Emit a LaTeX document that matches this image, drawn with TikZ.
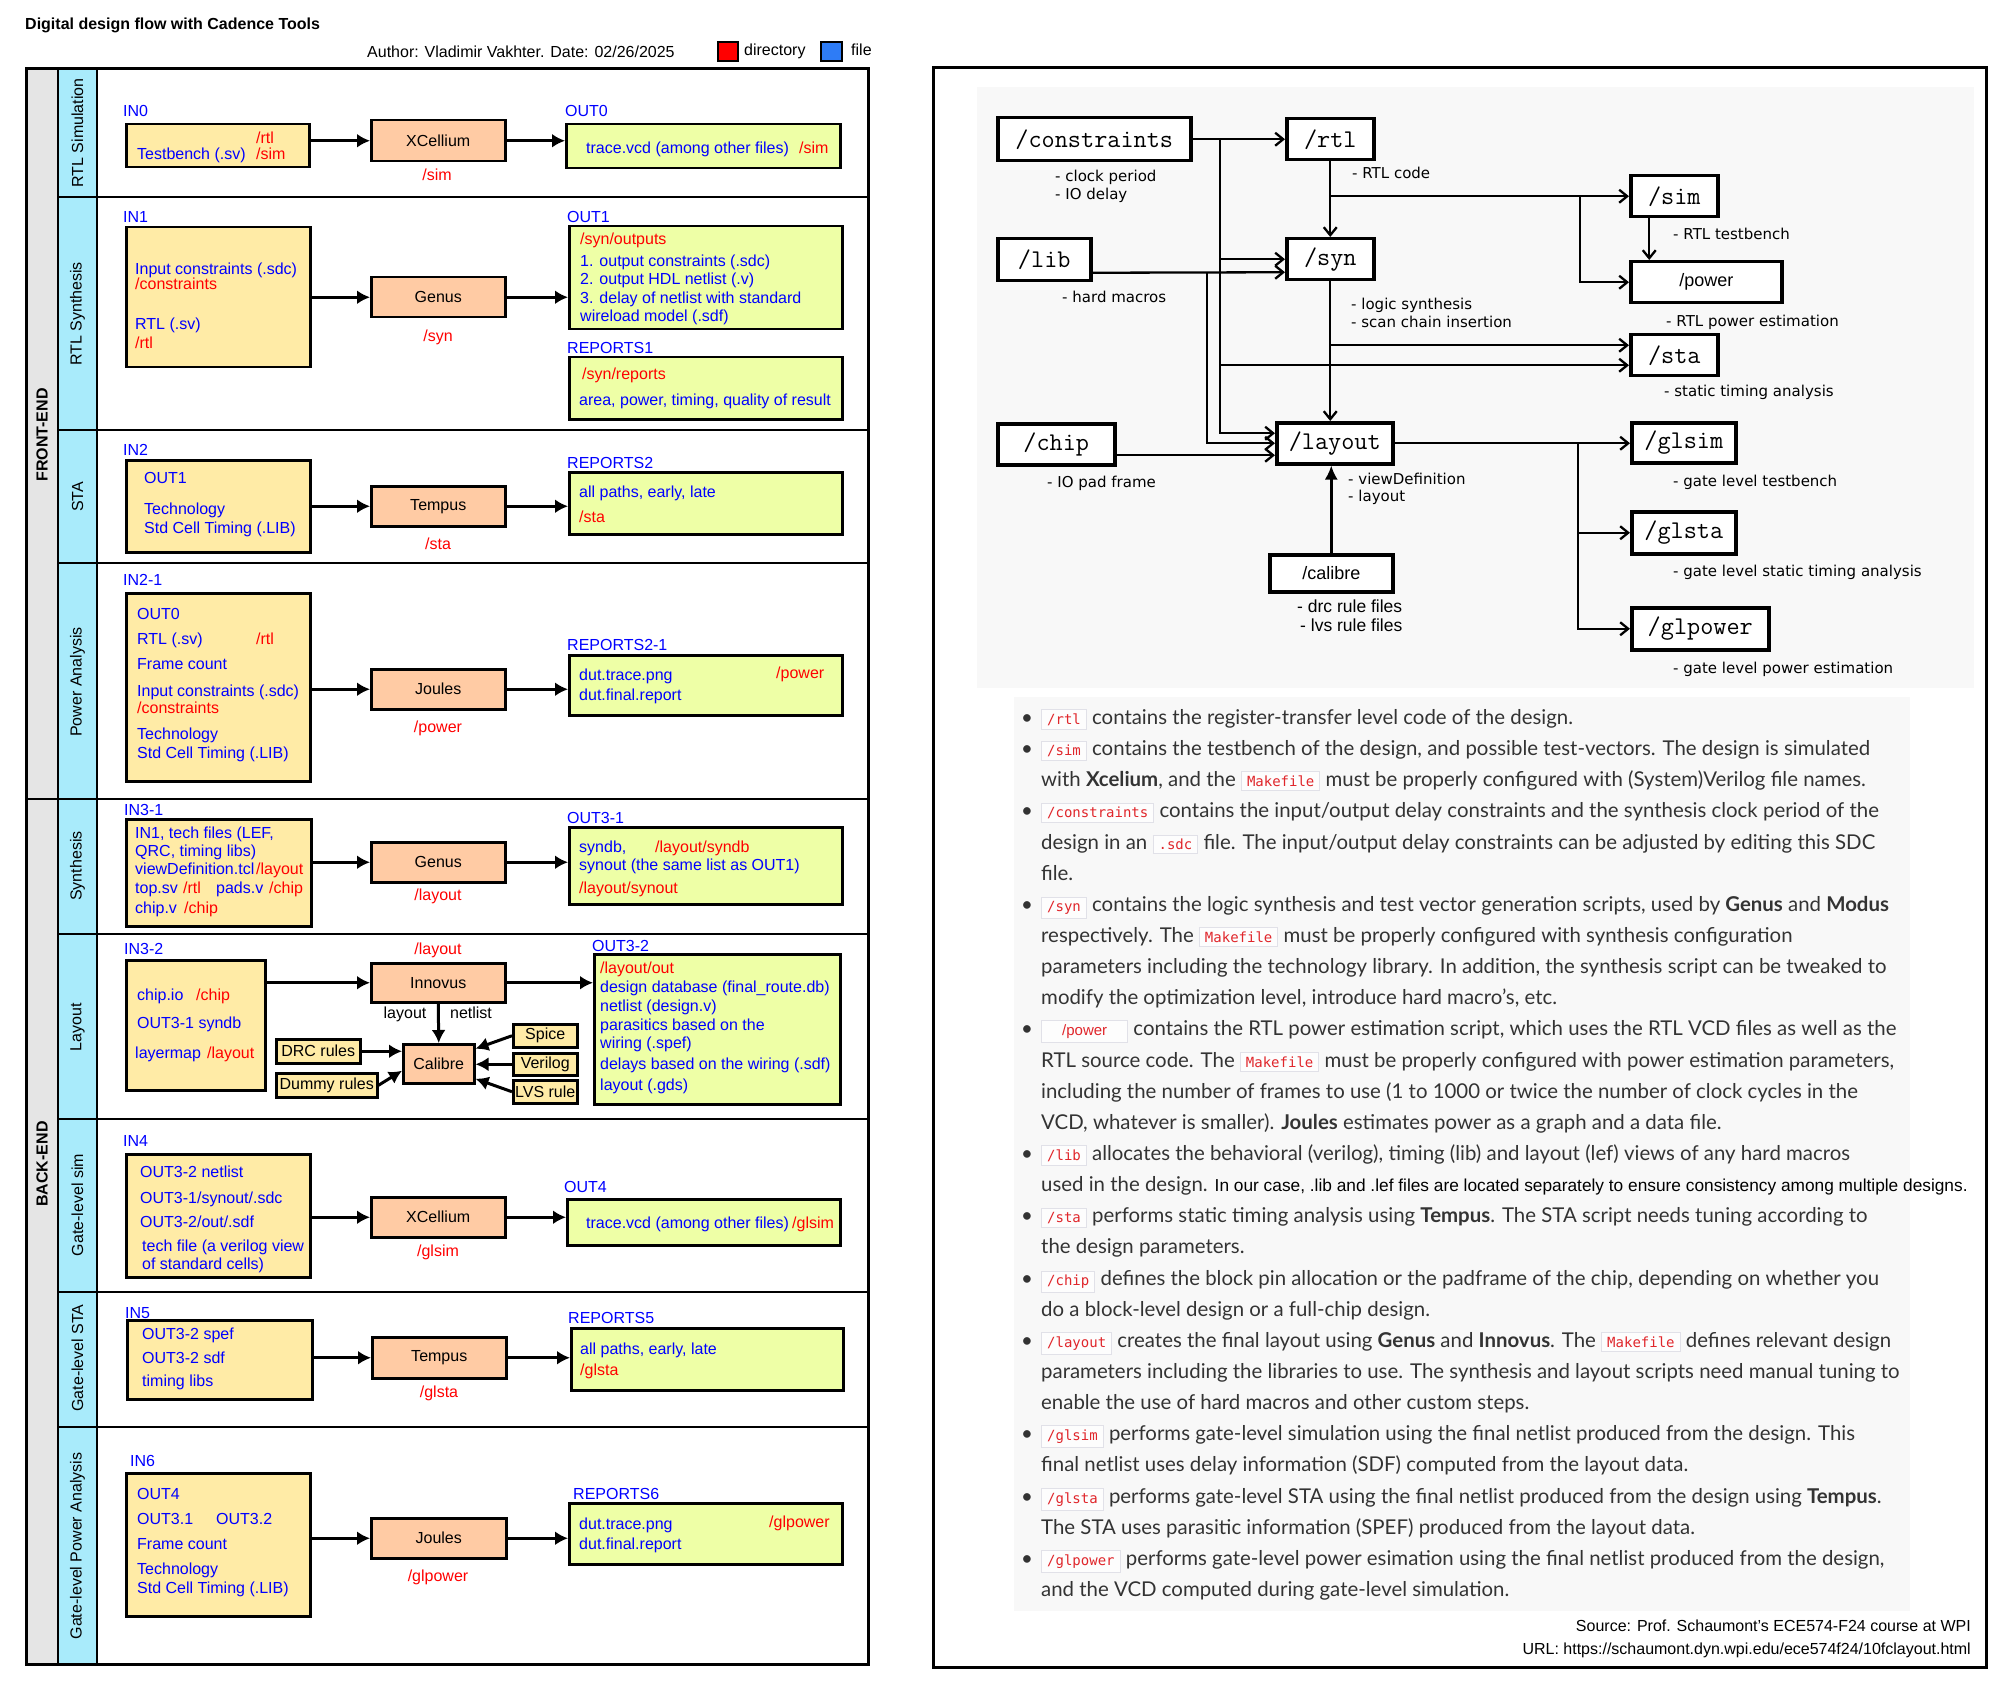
\documentclass[tikz,border=0pt]{standalone}
\usepackage{fontspec}
\setmainfont{Liberation Sans}
\newfontfamily\latofont{Lato}
\newfontfamily\dvfont{DejaVu Sans}
\newfontfamily\codefont{DejaVu Sans Mono}
\usetikzlibrary{arrows.meta}

\definecolor{inyellow}{HTML}{FFEBA6}
\definecolor{toolpeach}{HTML}{FFCBA4}
\definecolor{outgreen}{HTML}{EEFFA6}
\definecolor{stripcyan}{HTML}{A9EBFB}
\definecolor{stripgray}{HTML}{E5E5E5}
\definecolor{fileblue}{HTML}{2E7CF6}
\definecolor{codered}{HTML}{E0262B}
\definecolor{codeline}{HTML}{E1E1E8}
\definecolor{codebg}{HTML}{FDFDFD}
\definecolor{bodytext}{HTML}{333333}
\definecolor{panelbg}{HTML}{F8F8F8}

\newcommand\fsz{\fontsize{16}{19}\selectfont}
\newcommand\dirfont{\ttfamily\fontsize{25.5}{28}\selectfont}
\newcommand\notefont{\dvfont\fontsize{15}{18}\selectfont}
\newcommand\bodyfont{\latofont\fontsize{20.4}{24}\selectfont}
\setlength\fboxrule{1pt}
\setlength\fboxsep{3.5pt}
\newcommand\cde[1]{\fcolorbox{codeline}{codebg}{\hspace{1.5pt}{\codefont\fontsize{14}{15}\selectfont\color{codered}#1}\hspace{1.5pt}}}
\newcommand\pwr{\fcolorbox{codeline}{codebg}{\makebox[78pt]{\rmfamily\fontsize{15}{16}\selectfont\color{codered}/power}}}

\tikzset{
  txt/.style={anchor=mid west, inner sep=0pt, font=\fsz, yshift=-4pt},
  blu/.style={txt, text=blue},
  rd/.style={txt, text=red},
  rdc/.style={anchor=mid, inner sep=0pt, font=\fsz, text=red, yshift=-4pt},
  blk/.style={anchor=mid, inner sep=0pt, font=\fsz, yshift=-4pt},
  box/.style={draw, line width=2.5pt, anchor=north west, inner sep=0pt, font=\fsz},
  inbox/.style={box, fill=inyellow},
  toolbox/.style={box, fill=toolpeach},
  outbox/.style={box, fill=outgreen},
  arr/.style={line width=3pt, -{Latex[length=13pt,width=14pt]}},
  rowlbl/.style={rotate=90, inner sep=0pt, font=\fsz},
  dirbox/.style={draw, line width=3.5pt, fill=white, anchor=north west, inner sep=0pt, font=\dirfont},
  dirsbox/.style={dirbox, font=\fontsize{18}{20}\selectfont},
  rline/.style={line width=2.3pt},
  rarr/.style={rline, -{Straight Barb[length=8pt,width=13pt]}},
  calarr/.style={line width=2.5pt, -{Latex[length=14pt,width=13pt]}},
  note/.style={anchor=mid west, inner sep=0pt, font=\notefont, yshift=-4pt},
  snote/.style={anchor=mid west, inner sep=0pt, font=\fontsize{17.5}{20}\selectfont, yshift=-4pt},
  bline/.style={anchor=mid west, inner sep=0pt, font=\bodyfont, text=bodytext, yshift=-4pt},
  bul/.style={anchor=mid, inner sep=0pt, font=\bodyfont, text=bodytext, yshift=-4pt},
}

\begin{document}
\begin{tikzpicture}[x=1pt,y=-1pt]
\fill[white] (0,0) rectangle (2010,1693);
\useasboundingbox (0,0) rectangle (2010,1693);
% Header
\node[txt, font=\bfseries\fsz] (title) at (25,23) {Digital design flow with Cadence Tools};
\node[txt] (author) at (367,51) {Author: Vladimir Vakhter. Date: 02/26/2025};
\node[draw, line width=2pt, fill=red, anchor=north west, minimum width=20pt, minimum height=19pt, inner sep=0pt] (dirsq) at (717,41) {};
\node[txt] (dirtxt) at (744,49) {directory};
\node[draw, line width=2pt, fill=fileblue, anchor=north west, minimum width=21pt, minimum height=19pt, inner sep=0pt] (filesq) at (820,41) {};
\node[txt] (filetxt) at (851,49) {file};

% Left panel: strips and rows
\fill[stripgray] (26,69) rectangle (58,1664);
\fill[stripcyan] (58,69) rectangle (97,1664);
\draw[line width=2.5pt] (58,69) -- (58,1664);
\draw[line width=2.5pt] (97,69) -- (97,1664);
\draw[line width=2.5pt] (58,197) -- (868,197);
\draw[line width=2.5pt] (58,430) -- (868,430);
\draw[line width=2.5pt] (58,563) -- (868,563);
\draw[line width=2.5pt] (26,799) -- (868,799);
\draw[line width=2.5pt] (58,934) -- (868,934);
\draw[line width=2.5pt] (58,1119) -- (868,1119);
\draw[line width=2.5pt] (58,1292) -- (868,1292);
\draw[line width=2.5pt] (58,1427) -- (868,1427);
\draw[line width=3pt] (26,69) rectangle (868,1664);
\node[rowlbl, font=\bfseries\fsz] (fe) at (42,435) {FRONT-END};
\node[rowlbl, font=\bfseries\fsz] (be) at (42,1164) {BACK-END};
\node[rowlbl] (r1) at (77.5,133) {RTL Simulation};
\node[rowlbl] (r2) at (77.5,314) {RTL Synthesis};
\node[rowlbl] (r3) at (77.5,497) {STA};
\node[rowlbl] (r4) at (77.5,682) {Power Analysis};
\node[rowlbl] (r5) at (77.5,866) {Synthesis};
\node[rowlbl] (r6) at (77.5,1027) {Layout};
\node[rowlbl] (r7) at (77.5,1205) {Gate-level sim};
\node[rowlbl] (r8) at (77.5,1358) {Gate-level STA};
\node[rowlbl] (r9) at (77.5,1546) {Gate-level Power Analysis};

% Row 1: RTL Simulation
\node[blu] (lin0) at (123,110) {IN0};
\node[inbox, minimum width=183pt, minimum height=43pt] (in0) at (125,123) {};
\node[rd] at (256,137) {/rtl};
\node[blu] at (137,153) {Testbench (.sv)};
\node[rd] at (256,153) {/sim};
\node[toolbox, minimum width=134pt, minimum height=41pt] (xcel0) at (370,119) {XCellium};
\node[rdc] at (437,174) {/sim};
\node[blu] (lout0) at (565,110) {OUT0};
\node[outbox, minimum width=274pt, minimum height=44pt] (out0) at (565,123) {};
\node[blu] at (586,147) {trace.vcd (among other files)};
\node[rd] at (799,147) {/sim};
\draw[arr] (in0.east |- xcel0.west) -- (xcel0.west);
\draw[arr] (xcel0.east) -- (xcel0.east -| out0.west);

% Row 2: RTL Synthesis
\node[blu] (lin1) at (123,216) {IN1};
\node[inbox, minimum width=184pt, minimum height=140pt] (in1) at (125,226) {};
\node[blu] at (135,268) {Input constraints (.sdc)};
\node[rd] at (135,283) {/constraints};
\node[blu] at (135,323) {RTL (.sv)};
\node[rd] at (135,342) {/rtl};
\node[toolbox, minimum width=134pt, minimum height=40pt] (genus1) at (370,276) {Genus};
\node[rdc] at (438,335) {/syn};
\node[blu] (lout1) at (567,216) {OUT1};
\node[outbox, minimum width=273pt, minimum height=103pt] (out1) at (568,225) {};
\node[rd] at (580,238) {/syn/outputs};
\node[blu] at (580,260) {1. output constraints (.sdc)};
\node[blu] at (580,278) {2. output HDL netlist (.v)};
\node[blu] at (580,297) {3. delay of netlist with standard};
\node[blu] at (580,315) {wireload model (.sdf)};
\node[blu] (lrep1) at (567,347) {REPORTS1};
\node[outbox, minimum width=273pt, minimum height=62pt] (rep1) at (568,356) {};
\node[rd] at (582,373) {/syn/reports};
\node[blu] at (579,399) {area, power, timing, quality of result};
\draw[arr] (in1.east |- genus1.west) -- (genus1.west);
\draw[arr] (genus1.east) -- (genus1.east -| out1.west);

% Row 3: STA
\node[blu] (lin2) at (123,449) {IN2};
\node[inbox, minimum width=184pt, minimum height=92pt] (in2) at (125,459) {};
\node[blu] at (144,477) {OUT1};
\node[blu] at (144,508) {Technology};
\node[blu] at (144,527) {Std Cell Timing (.LIB)};
\node[toolbox, minimum width=134pt, minimum height=40pt] (tempus2) at (370,485) {Tempus};
\node[rdc] at (438,543) {/sta};
\node[blu] (lrep2) at (567,462) {REPORTS2};
\node[outbox, minimum width=273pt, minimum height=62pt] (rep2) at (568,471) {};
\node[blu] at (579,491) {all paths, early, late};
\node[rd] at (579,516) {/sta};
\draw[arr] (in2.east |- tempus2.west) -- (tempus2.west);
\draw[arr] (tempus2.east) -- (tempus2.east -| rep2.west);

% Row 4: Power Analysis
\node[blu] (lin21) at (123,579) {IN2-1};
\node[inbox, minimum width=184pt, minimum height=188pt] (in21) at (125,592) {};
\node[blu] at (137,613) {OUT0};
\node[blu] at (137,638) {RTL (.sv)};
\node[rd] at (256,638) {/rtl};
\node[blu] at (137,663) {Frame count};
\node[blu] at (137,690) {Input constraints (.sdc)};
\node[rd] at (137,707) {/constraints};
\node[blu] at (137,733) {Technology};
\node[blu] at (137,752) {Std Cell Timing (.LIB)};
\node[toolbox, minimum width=134pt, minimum height=40pt] (joules21) at (370,668) {Joules};
\node[rdc] at (438,726) {/power};
\node[blu] (lrep21) at (567,644) {REPORTS2-1};
\node[outbox, minimum width=273pt, minimum height=60pt] (rep21) at (568,654) {};
\node[blu] at (579,674) {dut.trace.png};
\node[rd] at (776,672) {/power};
\node[blu] at (579,694) {dut.final.report};
\draw[arr] (in21.east |- joules21.west) -- (joules21.west);
\draw[arr] (joules21.east) -- (joules21.east -| rep21.west);

% Row 5: Synthesis
\node[blu] (lin31) at (124,809) {IN3-1};
\node[inbox, minimum width=185pt, minimum height=107pt] (in31) at (125,818) {};
\node[blu] at (135,832) {IN1, tech files (LEF,};
\node[blu] at (135,850) {QRC, timing libs)};
\node[blu] at (135,868) {viewDefinition.tcl};
\node[rd] at (256,868) {/layout};
\node[blu] at (135,887) {top.sv};
\node[rd] at (183,887) {/rtl};
\node[blu] at (216,887) {pads.v};
\node[rd] at (269,887) {/chip};
\node[blu] at (135,907) {chip.v};
\node[rd] at (184,907) {/chip};
\node[toolbox, minimum width=134pt, minimum height=40pt] (genus31) at (370,841) {Genus};
\node[rdc] at (438,894) {/layout};
\node[blu] (lout31) at (567,817) {OUT3-1};
\node[outbox, minimum width=273pt, minimum height=77pt] (out31) at (568,826) {};
\node[blu] at (579,846) {syndb,};
\node[rd] at (655,846) {/layout/syndb};
\node[blu] at (579,864) {synout (the same list as OUT1)};
\node[rd] at (579,887) {/layout/synout};
\draw[arr] (in31.east |- genus31.west) -- (genus31.west);
\draw[arr] (genus31.east) -- (genus31.east -| out31.west);

% Row 6: Layout
\node[blu] (lin32) at (124,948) {IN3-2};
\node[inbox, minimum width=139pt, minimum height=130pt] (in32) at (125,959) {};
\node[blu] at (137,994) {chip.io};
\node[rd] at (196,994) {/chip};
\node[blu] at (137,1022) {OUT3-1 syndb};
\node[blu] at (135,1052) {layermap};
\node[rd] at (207,1052) {/layout};
\node[rdc] at (438,948) {/layout};
\node[toolbox, minimum width=134pt, minimum height=39pt] (innovus) at (370,962) {Innovus};
\node[blk] at (405,1012) {layout};
\node[blk] at (471,1012) {netlist};
\node[toolbox, minimum width=71pt, minimum height=39pt] (calibre) at (402,1043) {Calibre};
\node[inbox, minimum width=84pt, minimum height=24pt] (drc) at (275,1038) {DRC rules};
\node[inbox, minimum width=101pt, minimum height=24pt] (dummy) at (275,1072) {Dummy rules};
\node[inbox, minimum width=64pt, minimum height=23pt] (spice) at (512,1023) {Spice};
\node[inbox, minimum width=64pt, minimum height=22pt] (verilog) at (512,1052) {Verilog};
\node[inbox, minimum width=64pt, minimum height=23pt] (lvs) at (512,1079) {LVS rule};
\node[blu] (lout32) at (592,945) {OUT3-2};
\node[outbox, minimum width=246pt, minimum height=150pt] (out32) at (593,953) {};
\node[rd] at (600,967) {/layout/out};
\node[blu] at (600,986) {design database (final\_route.db)};
\node[blu] at (600,1005) {netlist (design.v)};
\node[blu] at (600,1024) {parasitics based on the};
\node[blu] at (600,1042) {wiring (.spef)};
\node[blu] at (600,1063) {delays based on the wiring (.sdf)};
\node[blu] at (600,1084) {layout (.gds)};
\draw[arr] (in32.east |- innovus.west) -- (innovus.west);
\draw[arr] (innovus.east) -- (innovus.east -| out32.west);
\draw[arr] (innovus.south) -- (calibre.north);
\draw[arr] (drc.east) -- (drc.east -| calibre.west);
\draw[arr] (dummy.east) -- ([yshift=-7pt]calibre.west);
\draw[arr] (spice.west) -- ([yshift=15pt]calibre.east);
\draw[arr] (verilog.west) -- (verilog.west -| calibre.east);
\draw[arr] (lvs.west) -- ([yshift=-15pt]calibre.east);

% Row 7: Gate-level sim
\node[blu] (lin4) at (123,1140) {IN4};
\node[inbox, minimum width=184pt, minimum height=123pt] (in4) at (125,1153) {};
\node[blu] at (140,1171) {OUT3-2 netlist};
\node[blu] at (140,1197) {OUT3-1/synout/.sdc};
\node[blu] at (140,1221) {OUT3-2/out/.sdf};
\node[blu] at (142,1245) {tech file (a verilog view};
\node[blu] at (142,1263) {of standard cells)};
\node[toolbox, minimum width=134pt, minimum height=40pt] (xcel4) at (370,1196) {XCellium};
\node[rdc] at (438,1250) {/glsim};
\node[blu] (lout4) at (564,1186) {OUT4};
\node[outbox, minimum width=273pt, minimum height=46pt] (out4) at (566,1198) {};
\node[blu] at (586,1222) {trace.vcd (among other files)};
\node[rd] at (792,1222) {/glsim};
\draw[arr] (in4.east |- xcel4.west) -- (xcel4.west);
\draw[arr] (xcel4.east) -- (xcel4.east -| out4.west);

% Row 8: Gate-level STA
\node[blu] (lin5) at (125,1312) {IN5};
\node[inbox, minimum width=185pt, minimum height=79pt] (in5) at (126,1319) {};
\node[blu] at (142,1333) {OUT3-2 spef};
\node[blu] at (142,1357) {OUT3-2 sdf};
\node[blu] at (142,1380) {timing libs};
\node[toolbox, minimum width=134pt, minimum height=41pt] (tempus5) at (371,1336) {Tempus};
\node[rdc] at (439,1391) {/glsta};
\node[blu] (lrep5) at (568,1317) {REPORTS5};
\node[outbox, minimum width=272pt, minimum height=62pt] (rep5) at (570,1327) {};
\node[blu] at (580,1348) {all paths, early, late};
\node[rd] at (580,1369) {/glsta};
\draw[arr] (in5.east |- tempus5.west) -- (tempus5.west);
\draw[arr] (tempus5.east) -- (tempus5.east -| rep5.west);

% Row 9: Gate-level Power Analysis
\node[blu] (lin6) at (130,1460) {IN6};
\node[inbox, minimum width=184pt, minimum height=143pt] (in6) at (125,1472) {};
\node[blu] at (137,1493) {OUT4};
\node[blu] at (137,1518) {OUT3.1};
\node[blu] at (216,1518) {OUT3.2};
\node[blu] at (137,1543) {Frame count};
\node[blu] at (137,1568) {Technology};
\node[blu] at (137,1587) {Std Cell Timing (.LIB)};
\node[toolbox, minimum width=135pt, minimum height=40pt] (joules6) at (370,1517) {Joules};
\node[rdc] at (438,1575) {/glpower};
\node[blu] (lrep6) at (573,1493) {REPORTS6};
\node[outbox, minimum width=273pt, minimum height=61pt] (rep6) at (568,1502) {};
\node[blu] at (579,1523) {dut.trace.png};
\node[rd] at (769,1521) {/glpower};
\node[blu] at (579,1543) {dut.final.report};
\draw[arr] (in6.east |- joules6.west) -- (joules6.west);
\draw[arr] (joules6.east) -- (joules6.east -| rep6.west);

% Right panel
\draw[line width=3pt] (933,68) rectangle (1986,1667);
\fill[panelbg] (977,87) rectangle (1974,688);
\fill[panelbg] (1014,697) rectangle (1910,1611);

% Directory tree
\node[dirbox, minimum width=193pt, minimum height=43pt] (dconstraints) at (996,116) {/constraints};
\node[dirbox, minimum width=87pt, minimum height=41pt] (drtl) at (1285,117) {/rtl};
\node[dirbox, minimum width=87pt, minimum height=41pt] (dsim) at (1629,174) {/sim};
\node[dirbox, minimum width=93pt, minimum height=42pt] (dlib) at (996,237) {/lib};
\node[dirbox, minimum width=87pt, minimum height=41pt] (dsyn) at (1285,237) {/syn};
\node[dirsbox, minimum width=151pt, minimum height=41pt] (dpower) at (1629,260) {/power};
\node[dirbox, minimum width=87pt, minimum height=41pt] (dsta) at (1629,333) {/sta};
\node[dirbox, minimum width=117pt, minimum height=41pt] (dchip) at (996,422) {/chip};
\node[dirbox, minimum width=116pt, minimum height=41pt] (dlayout) at (1275,421) {/layout};
\node[dirbox, minimum width=104pt, minimum height=40pt] (dglsim) at (1630,421) {/glsim};
\node[dirbox, minimum width=104pt, minimum height=42pt] (dglsta) at (1630,510) {/glsta};
\node[dirbox, minimum width=137pt, minimum height=42pt] (dglpower) at (1630,606) {/glpower};
\node[dirsbox, minimum width=123pt, minimum height=37pt] (dcalibre) at (1268,553) {/calibre};
\coordinate (cbx) at (1220,0);
\coordinate (lbx) at (1207,0);
\coordinate (pbx) at (1580,0);
\coordinate (gbx) at (1578,0);
\draw[rarr] (dconstraints.east) -- (drtl.west);
\draw[rarr] (dconstraints.east -| cbx) |- ([yshift=10pt]dlayout.west);
\draw[rarr] (dsyn.west -| cbx) -- (dsyn.west);
\draw[rarr] ([yshift=-10pt]dsta.west -| cbx) -- ([yshift=-10pt]dsta.west);
\draw[rarr] ([yshift=-13pt]dlib.east) -- ([yshift=-13pt]dsyn.west);
\draw[rarr] ([yshift=-13pt]dlib.east -| lbx) |- (dlayout.west);
\draw[rarr] ([yshift=-11pt]dchip.east) -- ([yshift=-11pt]dchip.east -| dlayout.west);
\draw[rarr] (drtl.south) -- (dsyn.north);
\draw[rarr] (drtl.south |- dsim.west) -- (dsim.west);
\draw[rarr] (dsim.west -| pbx) |- (dpower.west);
\draw[rarr] ([xshift=-25pt]dsim.south) -- ([xshift=-25pt]dsim.south |- dpower.north);
\draw[rarr] (dsyn.south) -- (dsyn.south |- dlayout.north);
\draw[rarr] ([yshift=10pt]dsta.west -| dsyn.south) -- ([yshift=10pt]dsta.west);
\draw[rarr] (dlayout.east) -- (dlayout.east -| dglsim.west);
\draw[rarr] (dglsim.west -| gbx) |- (dglpower.west);
\draw[rarr] (dglsta.west -| gbx) -- (dglsta.west);
\draw[calarr] (dcalibre.north) -- (dcalibre.north |- dlayout.south);
% Notes under the directories
\node[note] at (1055,175) {- clock period};
\node[note] at (1055,193) {- IO delay};
\node[note] at (1352,172) {- RTL code};
\node[note] at (1673,233) {- RTL testbench};
\node[note] at (1062,296) {- hard macros};
\node[note] at (1351,303) {- logic synthesis};
\node[note] at (1351,321) {- scan chain insertion};
\node[note] at (1666,320) {- RTL power estimation};
\node[note] at (1664,390) {- static timing analysis};
\node[note] at (1047,481) {- IO pad frame};
\node[note] at (1348,478) {- viewDefinition};
\node[note] at (1348,495) {- layout};
\node[note] at (1673,480) {- gate level testbench};
\node[note] at (1673,570) {- gate level static timing analysis};
\node[note] at (1673,667) {- gate level power estimation};
\node[snote] at (1297,606) {- drc rule files};
\node[snote] at (1300,625) {- lvs rule files};

% Description list
\node[bul] at (1027,718) {•};
\node[bline] (l1) at (1041,718) {\cde{/rtl} contains the register-transfer level code of the design.};
\node[bul] at (1027,749) {•};
\node[bline] (l2) at (1041,749) {\cde{/sim} contains the testbench of the design, and possible test-vectors. The design is simulated};
\node[bline] (l3) at (1041,780) {with \textbf{Xcelium}, and the \cde{Makefile} must be properly configured with (System)Verilog file names.};
\node[bul] at (1027,811) {•};
\node[bline] (l4) at (1041,811) {\cde{/constraints} contains the input/output delay constraints and the synthesis clock period of the};
\node[bline] (l5) at (1041,843) {design in an \cde{.sdc} file. The input/output delay constraints can be adjusted by editing this SDC};
\node[bline] (l6) at (1041,874) {file.};
\node[bul] at (1027,905) {•};
\node[bline] (l7) at (1041,905) {\cde{/syn} contains the logic synthesis and test vector generation scripts, used by \textbf{Genus} and \textbf{Modus}};
\node[bline] (l8) at (1041,936) {respectively. The \cde{Makefile} must be properly configured with synthesis configuration};
\node[bline] (l9) at (1041,967) {parameters including the technology library. In addition, the synthesis script can be tweaked to};
\node[bline] (l10) at (1041,998) {modify the optimization level, introduce hard macro’s, etc.};
\node[bul] at (1027,1029) {•};
\node[bline] (l11) at (1041,1029) {\pwr\ contains the RTL power estimation script, which uses the RTL VCD files as well as the};
\node[bline] (l12) at (1041,1061) {RTL source code. The \cde{Makefile} must be properly configured with power estimation parameters,};
\node[bline] (l13) at (1041,1092) {including the number of frames to use (1 to 1000 or twice the number of clock cycles in the};
\node[bline] (l14) at (1041,1123) {VCD, whatever is smaller). \textbf{Joules} estimates power as a graph and a data file.};
\node[bul] at (1027,1154) {•};
\node[bline] (l15) at (1041,1154) {\cde{/lib} allocates the behavioral (verilog), timing (lib) and layout (lef) views of any hard macros};
\node[bline] (l16) at (1041,1185) {used in the design. {\rmfamily\fontsize{17.3}{20}\selectfont\color{black}In our case, .lib and .lef files are located separately to ensure consistency among multiple designs.}};
\node[bul] at (1027,1216) {•};
\node[bline] (l17) at (1041,1216) {\cde{/sta} performs static timing analysis using \textbf{Tempus}. The STA script needs tuning according to};
\node[bline] (l18) at (1041,1247) {the design parameters.};
\node[bul] at (1027,1279) {•};
\node[bline] (l19) at (1041,1279) {\cde{/chip} defines the block pin allocation or the padframe of the chip, depending on whether you};
\node[bline] (l20) at (1041,1310) {do a block-level design or a full-chip design.};
\node[bul] at (1027,1341) {•};
\node[bline] (l21) at (1041,1341) {\cde{/layout} creates the final layout using \textbf{Genus} and \textbf{Innovus}. The \cde{Makefile} defines relevant design};
\node[bline] (l22) at (1041,1372) {parameters including the libraries to use. The synthesis and layout scripts need manual tuning to};
\node[bline] (l23) at (1041,1403) {enable the use of hard macros and other custom steps.};
\node[bul] at (1027,1434) {•};
\node[bline] (l24) at (1041,1434) {\cde{/glsim} performs gate-level simulation using the final netlist produced from the design. This};
\node[bline] (l25) at (1041,1465) {final netlist uses delay information (SDF) computed from the layout data.};
\node[bul] at (1027,1497) {•};
\node[bline] (l26) at (1041,1497) {\cde{/glsta} performs gate-level STA using the final netlist produced from the design using \textbf{Tempus}.};
\node[bline] (l27) at (1041,1528) {The STA uses parasitic information (SPEF) produced from the layout data.};
\node[bul] at (1027,1559) {•};
\node[bline] (l28) at (1041,1559) {\cde{/glpower} performs gate-level power esimation using the final netlist produced from the design,};
\node[bline] (l29) at (1041,1590) {and the VCD computed during gate-level simulation.};

% Source
\node[txt, anchor=mid east] (src) at (1971,1625) {Source: Prof. Schaumont's ECE574-F24 course at WPI};
\node[txt, anchor=mid east] (url) at (1971,1648) {URL: https://schaumont.dyn.wpi.edu/ece574f24/10fclayout.html};
\end{tikzpicture}
\end{document}
